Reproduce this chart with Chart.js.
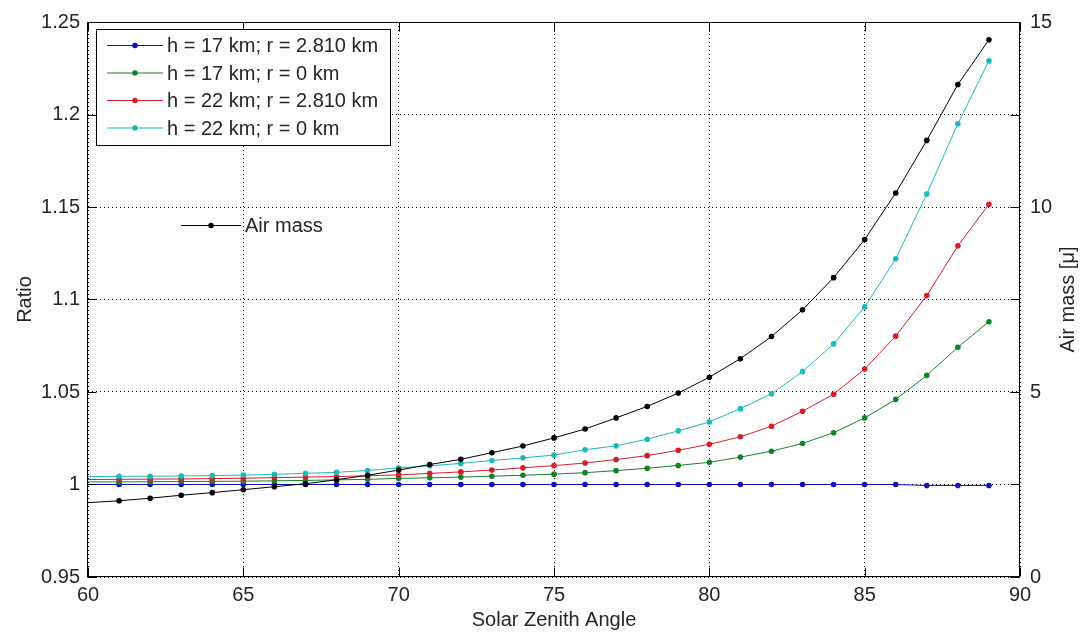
<!DOCTYPE html>
<html>
<head>
<meta charset="utf-8">
<title>Ratio and air mass vs solar zenith angle</title>
<script src="https://cdn.jsdelivr.net/npm/chart.js@4.4.1/dist/chart.umd.min.js"></script>
<style>
	html, body { margin: 0; padding: 0; background: #fff; }
	#wrap { width: 1081px; height: 632px; }
</style>
</head>
<body>
<div id="wrap"><canvas id="ratio-chart" width="1081" height="632"></canvas></div>
<script>
// solar zenith angle, degrees
const angles = [60, 61, 62, 63, 64, 65, 66, 67, 68, 69, 70, 71, 72, 73, 74, 75, 76, 77, 78, 79, 80, 81, 82, 83, 84, 85, 86, 87, 88, 89];

// ratio, h = 17 km / r = 2.810 km
const ratioH17R2810 = [1.0000, 1.0000, 1.0000, 1.0000, 1.0000, 1.0000, 1.0000, 1.0000, 1.0000, 1.0000,
	1.0000, 1.0000, 1.0000, 1.0000, 1.0000, 1.0000, 1.0000, 1.0000, 1.0000, 1.0000,
	1.0000, 1.0000, 1.0000, 1.0000, 1.0000, 1.0000, 1.0000, 0.9995, 0.9995, 0.9995];

// ratio, h = 17 km / r = 0 km
const ratioH17R0 = [1.0014, 1.0014, 1.0015, 1.0016, 1.0017, 1.0018, 1.0020, 1.0022, 1.0025, 1.0028,
	1.0033, 1.0036, 1.0040, 1.0045, 1.0050, 1.0056, 1.0064, 1.0075, 1.0088, 1.0103,
	1.0120, 1.0148, 1.0180, 1.0222, 1.0280, 1.0360, 1.0460, 1.0590, 1.0742, 1.0880];

// ratio, h = 22 km / r = 2.810 km
const ratioH22R2810 = [1.0027, 1.0028, 1.0029, 1.0030, 1.0032, 1.0034, 1.0037, 1.0040, 1.0043, 1.0047,
	1.0052, 1.0060, 1.0068, 1.0078, 1.0090, 1.0102, 1.0116, 1.0135, 1.0156, 1.0185,
	1.0217, 1.0258, 1.0315, 1.0396, 1.0488, 1.0624, 1.0802, 1.1021, 1.1290, 1.1515];

// ratio, h = 22 km / r = 0 km
const ratioH22R0 = [1.0043, 1.0044, 1.0045, 1.0046, 1.0048, 1.0051, 1.0055, 1.0060, 1.0066, 1.0076,
	1.0090, 1.0101, 1.0114, 1.0130, 1.0144, 1.0159, 1.0188, 1.0209, 1.0245, 1.0290,
	1.0338, 1.0410, 1.0490, 1.0610, 1.0760, 1.0960, 1.1220, 1.1570, 1.1950, 1.2290];

// air mass (right axis)
const airMass = [2.01, 2.06, 2.13, 2.21, 2.28, 2.36, 2.44, 2.52, 2.63, 2.75,
	2.89, 3.04, 3.18, 3.36, 3.54, 3.76, 4.00, 4.30, 4.61, 4.97,
	5.40, 5.90, 6.50, 7.22, 8.09, 9.12, 10.38, 11.80, 13.31, 14.52];

const seriesLabels = ['h = 17 km; r = 2.810 km', 'h = 17 km; r = 0 km', 'h = 22 km; r = 2.810 km', 'h = 22 km; r = 0 km'];
const airMassLabel = 'Air mass';

const xTitle = 'Solar Zenith Angle';
const yTitle = 'Ratio';
const y1Title = 'Air mass [\u03bc]';

const FONT_FAMILY = '"Liberation Sans", Arial, Helvetica, sans-serif';
const TEXT_COLOR = '#262626';
const TICK_LEN = 9;

function toPoints(values) {
	return angles.map((a, i) => ({ x: a, y: values[i] }));
}

// 1, 1.05, 1.1 ... without trailing zeros
function shortNumber(value) {
	return String(Number(value.toFixed(2)));
}

function lineDataset(label, values, color, axis, order) {
	return {
		label,
		data: toPoints(values),
		yAxisID: axis,
		borderColor: color,
		backgroundColor: color,
		borderWidth: 1,
		tension: 0,
		pointStyle: 'circle',
		// no marker on the first sample, it sits on the axis line
		pointRadius: ctx => (ctx.dataIndex === 0 ? 0 : 2.8),
		pointBorderWidth: 0,
		order,
	};
}

// inward ticks on all four sides, box, axis titles
const matlabAxes = {
	id: 'matlabAxes',
	afterDraw(chart) {
		const { ctx, chartArea: a, scales } = chart;
		const l = Math.round(a.left) - 0.5, r = Math.round(a.right) - 0.5;
		const t = Math.round(a.top) + 0.5, b = Math.round(a.bottom) - 0.5;

		ctx.save();
		ctx.strokeStyle = '#000';
		ctx.lineWidth = 1;
		ctx.strokeRect(l, t, r - l, b - t);

		ctx.beginPath();
		scales.x.ticks.forEach(tk => {
			const px = Math.round(scales.x.getPixelForValue(tk.value)) + 0.5;
			ctx.moveTo(px, b); ctx.lineTo(px, b - TICK_LEN);
			ctx.moveTo(px, t); ctx.lineTo(px, t + TICK_LEN);
		});
		scales.y.ticks.forEach(tk => {
			const py = Math.round(scales.y.getPixelForValue(tk.value)) + 0.5;
			ctx.moveTo(l, py); ctx.lineTo(l + TICK_LEN, py);
			ctx.moveTo(r, py); ctx.lineTo(r - TICK_LEN, py);
		});
		scales.y1.ticks.forEach(tk => {
			const py = Math.round(scales.y1.getPixelForValue(tk.value)) + 0.5;
			ctx.moveTo(r, py); ctx.lineTo(r - TICK_LEN, py);
		});
		ctx.stroke();

		ctx.fillStyle = TEXT_COLOR;
		ctx.font = '20px ' + FONT_FAMILY;
		ctx.textAlign = 'center';
		ctx.textBaseline = 'middle';
		ctx.fillText(xTitle, (a.left + a.right) / 2, 620);

		ctx.save();
		ctx.translate(25, (a.top + a.bottom) / 2);
		ctx.rotate(-Math.PI / 2);
		ctx.fillText(yTitle, 0, 0);
		ctx.restore();

		ctx.save();
		ctx.translate(1068, (a.top + a.bottom) / 2);
		ctx.rotate(-Math.PI / 2);
		ctx.fillText(y1Title, 0, 0);
		ctx.restore();

		ctx.restore();
	},
};

// boxed legend for the ratio series, plain one for air mass
const legendBoxes = {
	id: 'legendBoxes',
	afterDraw(chart) {
		const ctx = chart.ctx;
		const ds = chart.data.datasets;

		const drawEntry = (x0, x1, y, color, text) => {
			ctx.strokeStyle = color;
			ctx.lineWidth = 1;
			ctx.beginPath();
			ctx.moveTo(x0, y);
			ctx.lineTo(x1, y);
			ctx.stroke();
			ctx.fillStyle = color;
			ctx.beginPath();
			ctx.arc((x0 + x1) / 2, y, 2.8, 0, Math.PI * 2);
			ctx.fill();
			ctx.fillStyle = TEXT_COLOR;
			ctx.fillText(text, x1 + 4, y + 1);
		};

		ctx.save();
		ctx.font = '20px ' + FONT_FAMILY;
		ctx.textAlign = 'left';
		ctx.textBaseline = 'middle';

		ctx.fillStyle = '#fff';
		ctx.fillRect(97, 30, 294, 116);
		ctx.strokeStyle = '#000';
		ctx.lineWidth = 1;
		ctx.strokeRect(96.5, 29.5, 294, 116);

		ds.filter(d => d.yAxisID === 'y').forEach((d, i) => {
			drawEntry(107, 163, 45.5 + i * 27.5, d.borderColor, d.label);
		});

		const am = ds.find(d => d.yAxisID === 'y1');
		drawEntry(181, 241, 225.5, am.borderColor, am.label);
		ctx.restore();
	},
};

const config = {
	type: 'line',
	data: {
		datasets: [
			lineDataset(seriesLabels[0], ratioH17R2810, '#1010b4', 'y', 5),
			lineDataset(seriesLabels[1], ratioH17R0, '#16802a', 'y', 4),
			lineDataset(seriesLabels[2], ratioH22R2810, '#d41e2a', 'y', 3),
			lineDataset(seriesLabels[3], ratioH22R0, '#1eb9b9', 'y', 2),
			lineDataset(airMassLabel, airMass, '#000000', 'y1', 1),
		],
	},
	options: {
		responsive: false,
		animation: false,
		events: [],
		layout: { padding: { top: 20, left: 0, right: 0, bottom: 0 } },
		scales: {
			x: {
				type: 'linear',
				min: 60,
				max: 90,
				afterFit: s => { s.height = 55; },
				ticks: {
					stepSize: 5,
					autoSkip: false,
					maxRotation: 0,
					padding: 6,
					color: TEXT_COLOR,
					font: { family: FONT_FAMILY, size: 20 },
				},
				grid: { color: '#000', lineWidth: 1, drawTicks: false },
				border: { display: false, dash: [1, 3] },
			},
			y: {
				type: 'linear',
				position: 'left',
				min: 0.95,
				max: 1.25,
				afterFit: s => { s.width = 88; },
				ticks: {
					stepSize: 0.05,
					padding: 8,
					color: TEXT_COLOR,
					font: { family: FONT_FAMILY, size: 20 },
					callback: shortNumber,
				},
				grid: { color: '#000', lineWidth: 1, drawTicks: false },
				border: { display: false, dash: [1, 3] },
			},
			y1: {
				type: 'linear',
				position: 'right',
				min: 0,
				max: 15,
				afterFit: s => { s.width = 61; },
				ticks: {
					stepSize: 5,
					padding: 10,
					color: TEXT_COLOR,
					font: { family: FONT_FAMILY, size: 20 },
					callback: shortNumber,
				},
				grid: { drawOnChartArea: false, drawTicks: false },
				border: { display: false },
			},
		},
		plugins: {
			legend: { display: false },
			tooltip: { enabled: false },
		},
	},
	plugins: [matlabAxes, legendBoxes],
};

new Chart(document.getElementById('ratio-chart').getContext('2d'), config);
</script>
</body>
</html>
